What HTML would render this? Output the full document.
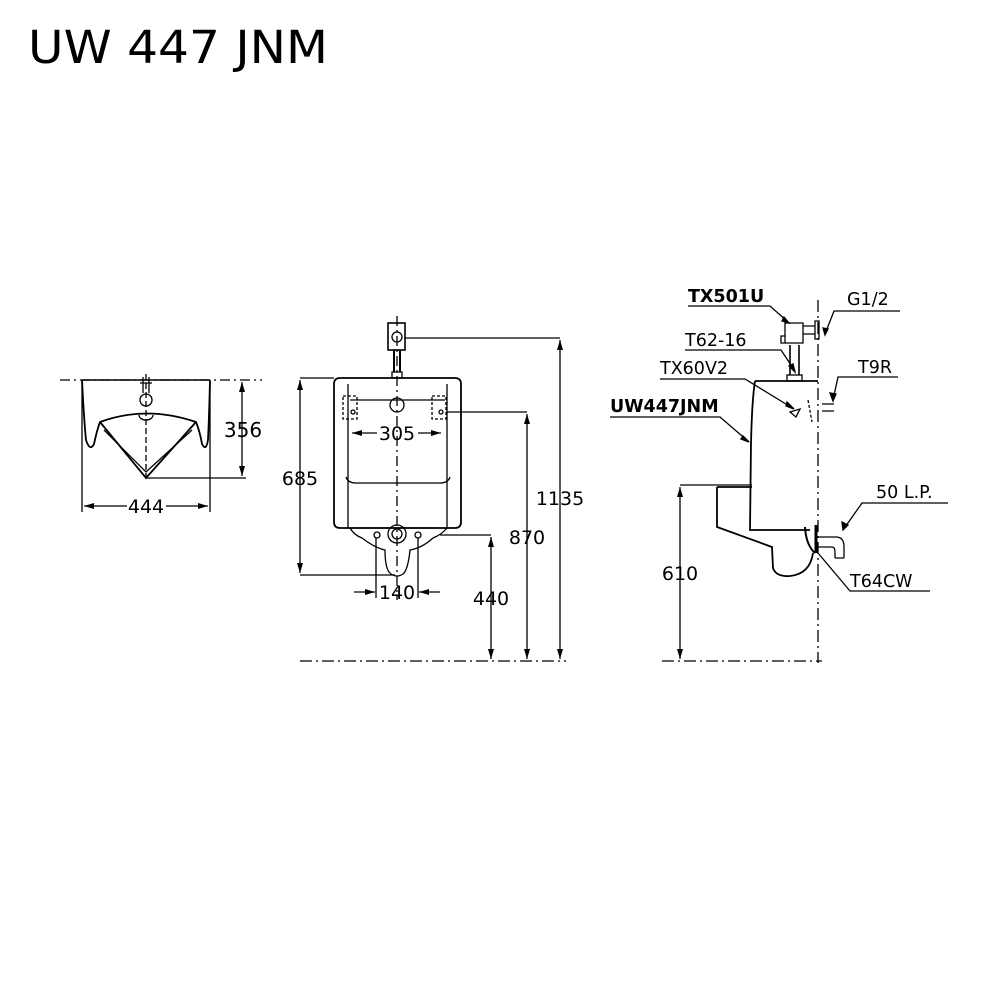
<!DOCTYPE html>
<html><head><meta charset="utf-8"><style>
html,body{margin:0;padding:0;background:#fff;}
svg{display:block}
text{font-family:"DejaVu Sans","Liberation Sans",sans-serif;fill:#000}
</style></head><body>
<svg width="1000" height="1000" viewBox="0 0 1000 1000" xmlns="http://www.w3.org/2000/svg">
<defs>
<marker id="a" viewBox="0 0 10 6" refX="10" refY="3" markerWidth="10" markerHeight="6" orient="auto-start-reverse" markerUnits="userSpaceOnUse"><path d="M0,0 L10,3 L0,6z" fill="#000"/></marker>
</defs>
<text x="28" y="63" font-size="45" textLength="300" lengthAdjust="spacingAndGlyphs">UW 447 JNM</text>

<g fill="none" stroke="#000" stroke-width="1.3">
<!-- LEFT VIEW -->
<line x1="60" y1="380" x2="262" y2="380" stroke-dasharray="10,4,2,4"/>
<path d="M82,380 L210,380" stroke-width="1.6"/>
<path d="M82,380 Q84,420 86,440 Q90,452 94,444 Q97,430 100,422 Q146,405 196,422 Q200,432 202,444 Q206,452 208,440 Q209,420 210,380" stroke-width="1.8"/>
<path d="M100,422 L146,478 L196,422" stroke-width="1.8"/>
<path d="M104,430 L146,472 L192,430"/>
<line x1="146" y1="374" x2="146" y2="482" stroke-dasharray="6,3"/>
<circle cx="146" cy="400" r="6"/>
<path d="M140,383 h12 M143,377 v16 M149,377 v16"/>
<path d="M139,415 a7,5 0 0 0 14,0"/>
<line x1="146" y1="478" x2="246" y2="478"/>
<line x1="242" y1="382" x2="242" y2="476" marker-start="url(#a)" marker-end="url(#a)"/>
<line x1="82" y1="382" x2="82" y2="512"/><line x1="210" y1="382" x2="210" y2="512"/>
<line x1="84" y1="506" x2="127" y2="506" marker-start="url(#a)"/>
<line x1="166" y1="506" x2="208" y2="506" marker-end="url(#a)"/>

<!-- FRONT VIEW -->
<line x1="397" y1="316" x2="397" y2="600" stroke-dasharray="10,4,2,4"/>
<rect x="388" y="323" width="17" height="27" stroke-width="1.6"/>
<circle cx="397" cy="337" r="5"/>
<path d="M394,350 v22 M400,350 v22" stroke-width="2"/>
<rect x="392" y="372" width="10" height="6"/>
<line x1="405" y1="338" x2="560" y2="338"/>
<path d="M340,378 L455,378 Q461,378 461,384 L461,522 Q461,528 455,528 L340,528 Q334,528 334,522 L334,384 Q334,378 340,378Z" stroke-width="1.8"/>
<path d="M348,384 v144 M447,384 v144"/>
<path d="M350,400 L445,400"/>
<rect x="343" y="396" width="14" height="23" stroke-dasharray="3,2"/>
<rect x="432" y="396" width="14" height="23" stroke-dasharray="3,2"/>
<circle cx="397" cy="405" r="7"/>
<circle cx="353" cy="412" r="2"/><circle cx="441" cy="412" r="2"/>
<line x1="447" y1="412" x2="527" y2="412"/>
<path d="M346,477 Q348,483 356,483 L440,483 Q448,483 450,477"/>
<path d="M350,528 Q354,535 362,538 Q375,548 385,550 Q385,570 391,574 Q397,578 403,574 Q408,570 410,550 Q422,548 433,538 Q441,535 447,528"/>
<path d="M356,528 L438,528"/>
<circle cx="397" cy="534" r="9"/><circle cx="397" cy="534" r="5"/>
<circle cx="377" cy="535" r="3"/><circle cx="418" cy="535" r="3"/>
<line x1="440" y1="535" x2="491" y2="535"/>
<line x1="300" y1="378" x2="334" y2="378"/>
<line x1="300" y1="575" x2="395" y2="575"/>
<line x1="300" y1="380" x2="300" y2="573" marker-start="url(#a)" marker-end="url(#a)"/>
<line x1="352" y1="433" x2="377" y2="433" marker-start="url(#a)"/>
<line x1="418" y1="433" x2="441" y2="433" marker-end="url(#a)"/>
<line x1="376" y1="538" x2="376" y2="598"/><line x1="418" y1="538" x2="418" y2="598"/>
<line x1="354" y1="592" x2="375" y2="592" marker-end="url(#a)"/>
<line x1="419" y1="592" x2="440" y2="592" marker-start="url(#a)"/>
<line x1="491" y1="537" x2="491" y2="659" marker-start="url(#a)" marker-end="url(#a)"/>
<line x1="527" y1="414" x2="527" y2="659" marker-start="url(#a)" marker-end="url(#a)"/>
<line x1="560" y1="340" x2="560" y2="659" marker-start="url(#a)" marker-end="url(#a)"/>
<line x1="300" y1="661" x2="566" y2="661" stroke-dasharray="12,4,2,4"/>

<!-- SIDE VIEW -->
<line x1="818" y1="300" x2="818" y2="663" stroke-dasharray="12,4,2,4"/>
<line x1="662" y1="661" x2="822" y2="661" stroke-dasharray="12,4,2,4"/>
<path d="M755,381 L818,381 M755,381 Q752,400 751,443 L750,530 L810,530" stroke-width="1.8"/>
<path d="M717,487 L752,487 M717,487 L717,527 L772,547 L773,568 Q776,577 790,576 Q810,574 813,553" stroke-width="1.8"/>
<path d="M805,527 Q806,545 815,553" stroke-width="2"/>
<path d="M816,525 L816,553" stroke-width="3"/>
<path d="M818,537 L836,537 Q844,537 844,547 L844,558 M818,547 L832,547 Q835,547 835,552 L835,558 M835,558 L844,558"/>
<path d="M790,345 v30 M799,345 v30" stroke-width="1.6"/>
<rect x="787" y="375" width="15" height="6"/>
<path d="M785,323 h18 v20 h-18z M781,336 h4 v7 h-4z M803,326 h12 v8 h-12z M815,321 h4 v18 h-4z"/>
<path d="M790,412 l10,-3 l-4,8z"/>
<path d="M808,400 l4,22" stroke-dasharray="3,2"/>
<path d="M822,404 h12 M822,411 h12"/>
<line x1="680" y1="485" x2="752" y2="485"/>
<line x1="680" y1="487" x2="680" y2="659" marker-start="url(#a)" marker-end="url(#a)"/>
<!-- leaders -->
<path d="M688,306 L770,306 L788,322" /><path d="M784,317 l5,6 l-7,-2z" fill="#000"/>
<path d="M900,311 L834,311 L825,334" /><path d="M823,328 l2,7 l3,-6z" fill="#000"/>
<path d="M685,350 L781,350 L795,371"/><path d="M789,366 l6,6 l-2,-8z" fill="#000"/>
<path d="M660,379 L745,379 L794,409"/><path d="M787,402 l7,7 l-8,-3z" fill="#000"/>
<path d="M610,417 L720,417 L749,442"/><path d="M743,436 l6,6 l-8,-3z" fill="#000"/>
<path d="M898,377 L838,377 L833,400"/><path d="M830,393 l3,8 l3,-7z" fill="#000"/>
<path d="M948,503 L862,503 L843,530"/><path d="M842,522 l1,8 l5,-5z" fill="#000"/>
<path d="M930,591 L850,591 L818,553"/>
</g>

<g font-size="19">
<text x="243" y="437" text-anchor="middle" font-size="20">356</text>
<text x="146" y="513" text-anchor="middle">444</text>
<text x="300" y="485" text-anchor="middle">685</text>
<text x="397" y="440" text-anchor="middle">305</text>
<text x="397" y="599" text-anchor="middle">140</text>
<text x="491" y="605" text-anchor="middle">440</text>
<text x="527" y="544" text-anchor="middle">870</text>
<text x="560" y="505" text-anchor="middle">1135</text>
<text x="680" y="580" text-anchor="middle">610</text>
</g>
<g font-size="17.5">
<text x="688" y="302" font-weight="bold">TX501U</text>
<text x="847" y="305">G1/2</text>
<text x="685" y="346">T62-16</text>
<text x="660" y="374">TX60V2</text>
<text x="610" y="412" font-weight="bold">UW447JNM</text>
<text x="858" y="373">T9R</text>
<text x="876" y="498">50 L.P.</text>
<text x="850" y="587">T64CW</text>
</g>
</svg>
</body></html>
